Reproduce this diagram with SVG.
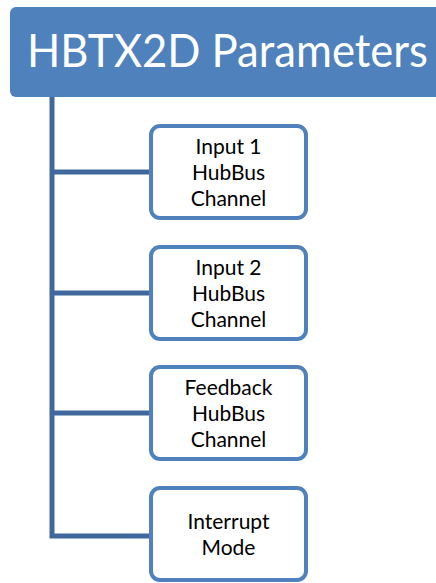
<svg xmlns="http://www.w3.org/2000/svg" width="436" height="583" viewBox="0 0 436 583">
<style>
.box{fill:#fff;stroke:#4F81BD;stroke-width:4}
.lbl{font-family:Lato,"Open Sans",sans-serif;font-size:21px;fill:#000;text-anchor:middle}
.conn{fill:none;stroke:#41689C;stroke-width:5}
</style>
<g id="header">
<rect x="10" y="7" width="440" height="90" rx="6" fill="#4F81BD"/>
<text x="27" y="67" font-family="Lato,'Open Sans',sans-serif" font-size="47" fill="#fff" textLength="401" lengthAdjust="spacingAndGlyphs">HBTX2D Parameters</text>
</g>
<g id="connectors">
<path class="conn" d="M52 97 V536 H151"/>
<path class="conn" d="M52 172 H151 M52 293 H151 M52 413 H151"/>
</g>
<g id="n1"><rect class="box" x="151" y="126" width="155" height="92" rx="9"/>
<text class="lbl" x="228.5" y="154">Input 1</text><text class="lbl" x="228.5" y="180">HubBus</text><text class="lbl" x="228.5" y="206">Channel</text></g>
<g id="n2"><rect class="box" x="151" y="247" width="155" height="92" rx="9"/>
<text class="lbl" x="228.5" y="275">Input 2</text><text class="lbl" x="228.5" y="301">HubBus</text><text class="lbl" x="228.5" y="327">Channel</text></g>
<g id="n3"><rect class="box" x="151" y="367" width="155" height="92" rx="9"/>
<text class="lbl" x="228.5" y="395">Feedback</text><text class="lbl" x="228.5" y="421">HubBus</text><text class="lbl" x="228.5" y="447">Channel</text></g>
<g id="n4"><rect class="box" x="151" y="488" width="155" height="92" rx="9"/>
<text class="lbl" x="228.5" y="529">Interrupt</text><text class="lbl" x="228.5" y="555">Mode</text></g>
</svg>
